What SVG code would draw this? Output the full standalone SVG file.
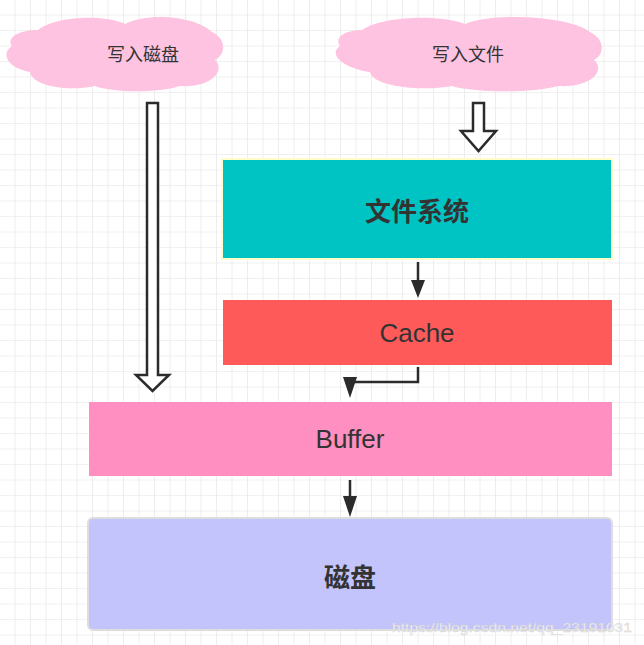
<svg xmlns="http://www.w3.org/2000/svg" width="644" height="645" viewBox="0 0 644 645">
<defs>
<pattern id="grid" width="15.5" height="15.5" patternUnits="userSpaceOnUse"><path d="M15.5 0V15.5H0" fill="none" stroke="#e3e3e3" stroke-width="1.2"/></pattern>
</defs>
<style>
.t{font-family:"Noto Sans CJK SC",sans-serif;fill:#333;text-anchor:middle;dominant-baseline:central}
.e{font-family:"Liberation Sans",Arial,sans-serif;fill:#333;text-anchor:middle;dominant-baseline:central;font-size:26px}
.b{font-weight:bold;font-size:26px}
.c{fill:#fec3e0}
.h{fill:#fff;stroke:#2b2b2b;stroke-width:2.5;stroke-linejoin:miter}
.l{stroke:#2b2b2b;stroke-width:2.5;fill:none}
.a{fill:#2b2b2b}
</style>
<rect width="644" height="645" fill="#fff"/>
<rect width="644" height="645" fill="url(#grid)"/>
<g id="cloud1">
<path class="c" d="M38 30C55 16 105 14 125 24C148 12 195 16 212 32C228 40 225 55 215 60C226 70 212 88 180 86C155 94 110 92 95 86C68 92 32 86 30 72C8 68 0 54 12 46C6 38 18 30 38 30Z"/>
<text class="t" x="143" y="53" font-size="18">写入磁盘</text>
</g>
<g id="cloud2">
<path class="c" d="M362 30C382 16 440 14 465 24C492 12 570 16 590 32C606 40 604 55 594 60C606 70 592 88 558 86C530 94 470 92 452 86C420 92 372 86 370 72C342 68 328 54 340 46C334 38 344 30 362 30Z"/>
<text class="t" x="468" y="53" font-size="18">写入文件</text>
</g>
<g id="fs"><rect x="222" y="159" width="390" height="100" fill="#00c4c4" stroke="#fffcc8" stroke-width="2"/><text class="t b" x="417" y="209">文件系统</text></g>
<g id="cache"><rect x="223" y="300" width="389" height="65" fill="#ff5a5a"/><text class="e" x="417" y="333">Cache</text></g>
<g id="buffer"><rect x="89" y="402" width="523" height="74" fill="#ff8fc0"/><text class="e" x="350" y="439">Buffer</text></g>
<g id="disk"><rect x="88" y="518" width="524" height="112" rx="5" fill="#c4c4fc" stroke="#ddd" stroke-width="2"/><text class="t b" x="350" y="575">磁盘</text></g>
<g id="connectors">
<path class="h" d="M147 103H158V375H169L152.5 391L136 375H147Z"/>
<path class="h" d="M473 103H484V131H496L478.5 151L461 131H473Z"/>
<path class="l" d="M418 262V282"/><path class="a" d="M411 280H425L418 298Z"/>
<path class="l" d="M418 367V382H350V384"/><path class="a" d="M343 377H357L350 398Z"/>
<path class="l" d="M350 480V498"/><path class="a" d="M343 496H357L350 517Z"/>
</g>
<text x="392" y="632" font-family="Liberation Sans,sans-serif" font-size="13" textLength="240" lengthAdjust="spacingAndGlyphs" fill="#f6f6f6" stroke="#c8c8c8" stroke-width="0.4" stroke-opacity="0.8">https://blog.csdn.net/qq_23191031</text>
</svg>
